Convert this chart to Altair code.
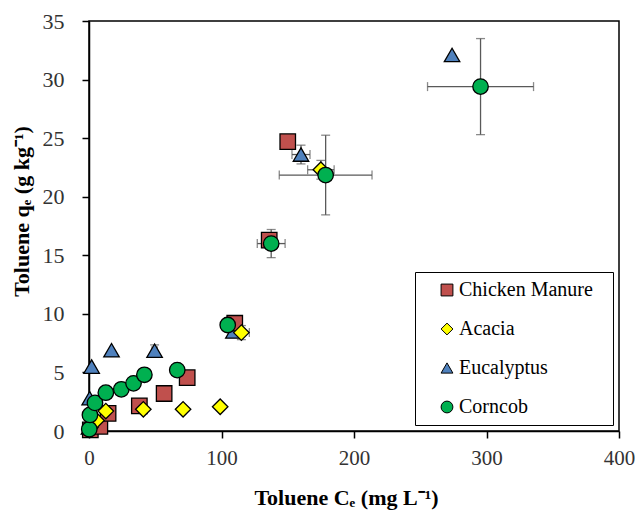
import altair as alt
import pandas as pd

series_names = ["Chicken Manure", "Acacia", "Eucalyptus", "Corncob"]
fill_colors = ["#C0504D", "#FFFF00", "#4F81BD", "#00B050"]
shape_names = ["square", "diamond", "triangle-up", "circle"]
draw_order = ["Eucalyptus", "Chicken Manure", "Acacia", "Corncob"]

# Chicken Manure
cm_x = [1.0, 8.2, 14.4, 38.0, 56.7, 74.1, 110.0, 136.0, 150.0]
cm_y = [0.1, 0.4, 1.5, 2.15, 3.2, 4.55, 9.2, 16.3, 24.7]
cm_xerr = [0, 0, 0, 0, 0, 0, 0, 0, 0]
cm_yerr = [0, 0, 0, 0, 0, 0, 0, 0, 0]

# Acacia
ac_x = [1.0, 5.7, 12.7, 41.0, 71.0, 99.0, 115.0, 175.0]
ac_y = [0.3, 0.9, 1.7, 1.85, 1.85, 2.07, 8.4, 22.3]
ac_xerr = [0, 0, 0, 0, 0, 0, 6.0, 10.0]
ac_yerr = [0, 0, 0, 0, 0, 0, 0.6, 0.8]

# Eucalyptus
eu_x = [0.0, 0.5, 2.0, 17.0, 49.5, 109.0, 160.0, 274.0]
eu_y = [0.3, 2.8, 5.5, 6.9, 6.85, 8.5, 23.6, 32.1]
eu_xerr = [0, 0, 0, 0, 2.0, 0, 6.8, 0]
eu_yerr = [0, 0, 0, 0, 0.5, 0, 0.8, 0]

# Corncob
cc_x = [0.2, 0.7, 4.5, 12.7, 24.4, 33.6, 41.8, 66.6, 104.7, 137.5, 178.6, 295.5]
cc_y = [0.15, 1.37, 2.4, 3.27, 3.56, 4.07, 4.8, 5.2, 9.05, 16.0, 21.85, 29.4]
cc_xerr = [0, 0, 0, 0, 0, 0, 0, 0, 0, 10.5, 35.0, 40.0]
cc_yerr = [0, 0, 0, 0, 0, 0, 0, 0, 0, 1.2, 3.4, 4.1]

x_ticks = [0, 100, 200, 300, 400]
y_ticks = [0, 5, 10, 15, 20, 25, 30, 35]

series_data = {
    "Chicken Manure": (cm_x, cm_y, cm_xerr, cm_yerr),
    "Acacia": (ac_x, ac_y, ac_xerr, ac_yerr),
    "Eucalyptus": (eu_x, eu_y, eu_xerr, eu_yerr),
    "Corncob": (cc_x, cc_y, cc_xerr, cc_yerr),
}

rows = []
for name in draw_order:
    xs, ys, xe, ye = series_data[name]
    for a, b, c, d in zip(xs, ys, xe, ye):
        rows.append({"series": name, "x": a, "y": b, "xerr": c, "yerr": d})
df = pd.DataFrame(rows)

FONT = "Liberation Serif"

xscale = alt.Scale(domain=[0, 400], nice=False, padding=0, zero=False)
yscale = alt.Scale(domain=[0, 35], nice=False, padding=0, zero=False)
xaxis = alt.Axis(
    values=x_ticks,
    title="Toluene  Cₑ (mg L⁻¹)",
    labelPadding=9,
    labelFlush=False,
    labelFont=FONT,
    labelFontSize=21,
    titleX=257,
    titleY=56,
    titleBaseline="top",
)
yaxis = alt.Axis(
    values=y_ticks,
    title="Toluene qₑ (g kg⁻¹)",
    labelPadding=18,
    labelFlush=False,
    labelFont=FONT,
    labelFontSize=22,
    titleX=-56,
    titleY=190,
    titleBaseline="bottom",
)
err_color = "#595959"

base = alt.Chart(df)

xbars = base.transform_filter("datum.xerr > 0").transform_calculate(
    lo="datum.x - datum.xerr", hi="datum.x + datum.xerr"
).mark_rule(color=err_color, strokeWidth=1.3).encode(
    x=alt.X("lo:Q", scale=xscale, axis=xaxis),
    x2="hi:Q",
    y=alt.Y("y:Q", scale=yscale, axis=yaxis),
)
xcaps = base.transform_filter("datum.xerr > 0").transform_calculate(
    lo="datum.x - datum.xerr", hi="datum.x + datum.xerr"
).transform_fold(["lo", "hi"], as_=["k", "v"]).mark_tick(
    color=err_color, orient="vertical", size=9, thickness=1.3
).encode(
    x=alt.X("v:Q", scale=xscale, axis=xaxis),
    y=alt.Y("y:Q", scale=yscale, axis=yaxis),
)
ybars = base.transform_filter("datum.yerr > 0").transform_calculate(
    lo="datum.y - datum.yerr", hi="datum.y + datum.yerr"
).mark_rule(color=err_color, strokeWidth=1.3).encode(
    x=alt.X("x:Q", scale=xscale, axis=xaxis),
    y=alt.Y("lo:Q", scale=yscale, axis=yaxis),
    y2="hi:Q",
)
ycaps = base.transform_filter("datum.yerr > 0").transform_calculate(
    lo="datum.y - datum.yerr", hi="datum.y + datum.yerr"
).transform_fold(["lo", "hi"], as_=["k", "v"]).mark_tick(
    color=err_color, orient="horizontal", size=9, thickness=1.3
).encode(
    x=alt.X("x:Q", scale=xscale, axis=xaxis),
    y=alt.Y("v:Q", scale=yscale, axis=yaxis),
)

points = base.mark_point(filled=True, opacity=1, stroke="black", strokeWidth=1.3, size=240).encode(
    x=alt.X("x:Q", scale=xscale, axis=xaxis),
    y=alt.Y("y:Q", scale=yscale, axis=yaxis),
    fill=alt.Fill(
        "series:N",
        scale=alt.Scale(domain=series_names, range=fill_colors),
        legend=alt.Legend(
            title="\u00a0",
            titleOrient="right",
            titlePadding=12,
            titleFontSize=12,
            orient="none",
            legendX=326,
            legendY=251,
            strokeColor="black",
            fillColor="white",
            padding=8,
            rowPadding=19,
            labelFont=FONT,
            labelFontSize=20,
            labelColor="black",
            labelOffset=2,
            symbolSize=140,
            symbolOffset=14,
            symbolStrokeColor="black",
            symbolStrokeWidth=1,
        ),
    ),
    shape=alt.Shape(
        "series:N",
        scale=alt.Scale(domain=series_names, range=shape_names),
    ),
)

chart = alt.layer(xbars, xcaps, ybars, ycaps, points).properties(
    width=530,
    height=410,
    autosize=alt.AutoSizeParams(type="none"),
    padding={"left": 81, "top": 13, "right": 16, "bottom": 84},
).configure(font=FONT).configure_view(stroke="black", strokeWidth=1.5).configure_axis(
    grid=False,
    domainColor="black",
    domainWidth=1.5,
    tickColor="black",
    tickWidth=1.5,
    tickSize=7,
    labelFont=FONT,
    labelFontSize=21,
    labelColor="#333333",
    titleFont=FONT,
    titleFontSize=22,
    titleFontWeight="bold",
    titleColor="black",
).configure_legend(labelFont=FONT, titleFont=FONT)

chart.save("out.html", embed_options={"renderer": "svg", "actions": False})
